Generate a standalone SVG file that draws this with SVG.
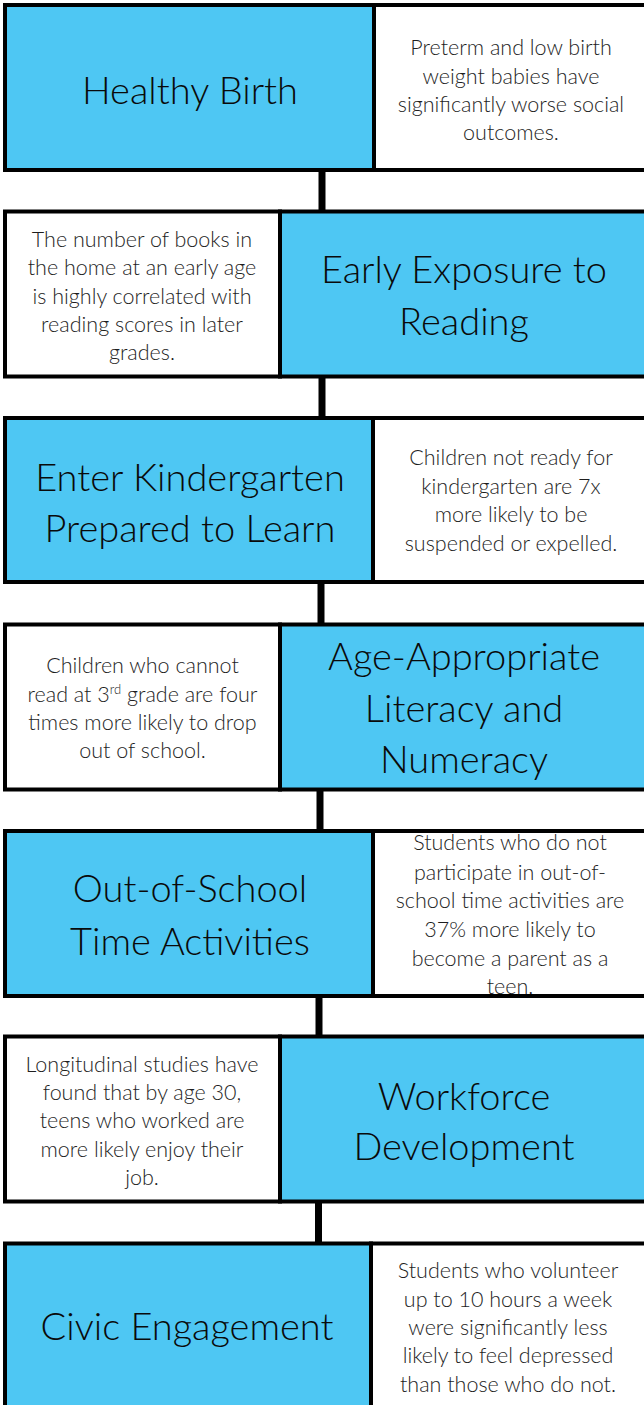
<svg xmlns="http://www.w3.org/2000/svg" width="644" height="1405" viewBox="0 0 644 1405">
<style>
.blue{fill:#4EC7F3;}
.white{fill:#FFFFFF;}
.frame{fill:none;stroke:#000;stroke-width:4;}
.title{font-family:Lato,"Open Sans","Liberation Sans",sans-serif;font-weight:300;font-size:38px;fill:#0a0a0a;text-anchor:middle;}
.body{font-family:Lato,"Open Sans","Liberation Sans",sans-serif;font-weight:300;font-size:21.5px;fill:#1e1e1e;text-anchor:middle;}
.conn{stroke:#000;stroke-width:7;}
</style>
<rect x="0" y="0" width="644" height="1405" fill="#fff"/>
<g id="connectors">
<line class="conn" x1="322" y1="168" x2="322" y2="213"/>
<line class="conn" x1="322" y1="375" x2="322" y2="420"/>
<line class="conn" x1="321" y1="580" x2="321" y2="626"/>
<line class="conn" x1="320" y1="788" x2="320" y2="833"/>
<line class="conn" x1="319" y1="994" x2="319" y2="1038"/>
<line class="conn" x1="318.5" y1="1200" x2="318.5" y2="1245"/>
</g>
<g id="healthy-birth">
<rect class="blue" x="5" y="5" width="369" height="165"/>
<text class="title" x="190" y="104">Healthy Birth</text>
<rect class="frame" x="5" y="5" width="369" height="165"/>
</g>
<g id="healthy-birth-fact">
<rect class="white" x="374" y="5" width="274" height="165"/>
<text class="body"><tspan x="511" y="55">Preterm and low birth</tspan><tspan x="511" y="83.5">weight babies have</tspan><tspan x="511" y="112">significantly worse social</tspan><tspan x="511" y="140">outcomes.</tspan></text>
<rect class="frame" x="374" y="5" width="274" height="165"/>
</g>
<g id="early-reading-fact">
<rect class="white" x="5" y="211.5" width="275" height="165"/>
<text class="body"><tspan x="142" y="247">The number of books in</tspan><tspan x="142" y="275">the home at an early age</tspan><tspan x="142" y="303.5">is highly correlated with</tspan><tspan x="142" y="332">reading scores in later</tspan><tspan x="142" y="360">grades.</tspan></text>
<rect class="frame" x="5" y="211.5" width="275" height="165"/>
</g>
<g id="early-reading">
<rect class="blue" x="280" y="211.5" width="368" height="165"/>
<text class="title"><tspan x="464" y="283">Early Exposure to</tspan><tspan x="464" y="335">Reading</tspan></text>
<rect class="frame" x="280" y="211.5" width="368" height="165"/>
</g>
<g id="kindergarten">
<rect class="blue" x="5" y="418" width="368" height="164"/>
<text class="title"><tspan x="190" y="491">Enter Kindergarten</tspan><tspan x="190" y="542">Prepared to Learn</tspan></text>
<rect class="frame" x="5" y="418" width="368" height="164"/>
</g>
<g id="kindergarten-fact">
<rect class="white" x="373" y="418" width="275" height="164"/>
<text class="body"><tspan x="511" y="465">Children not ready for</tspan><tspan x="511" y="494">kindergarten are 7x</tspan><tspan x="511" y="522">more likely to be</tspan><tspan x="511" y="551">suspended or expelled.</tspan></text>
<rect class="frame" x="373" y="418" width="275" height="164"/>
</g>
<g id="literacy-fact">
<rect class="white" x="5" y="624.5" width="275" height="165"/>
<text class="body"><tspan x="142.5" y="673">Children who cannot</tspan><tspan x="142.5" y="702">read at 3<tspan font-size="13" dy="-8">rd</tspan><tspan dy="8"> grade are four</tspan></tspan><tspan x="142.5" y="730">times more likely to drop</tspan><tspan x="142.5" y="758">out of school.</tspan></text>
<rect class="frame" x="5" y="624.5" width="275" height="165"/>
</g>
<g id="literacy">
<rect class="blue" x="280" y="624.5" width="368" height="165"/>
<text class="title"><tspan x="464" y="670">Age-Appropriate</tspan><tspan x="464" y="722">Literacy and</tspan><tspan x="464" y="773">Numeracy</tspan></text>
<rect class="frame" x="280" y="624.5" width="368" height="165"/>
</g>
<g id="out-of-school">
<rect class="blue" x="5" y="831" width="368" height="165"/>
<text class="title"><tspan x="190" y="902">Out-of-School</tspan><tspan x="190" y="955">Time Activities</tspan></text>
<rect class="frame" x="5" y="831" width="368" height="165"/>
</g>
<g id="out-of-school-fact">
<rect class="white" x="373" y="831" width="275" height="165"/>
<text class="body"><tspan x="510" y="850">Students who do not</tspan><tspan x="510" y="880">participate in out-of-</tspan><tspan x="510" y="908">school time activities are</tspan><tspan x="510" y="937">37% more likely to</tspan><tspan x="510" y="966">become a parent as a</tspan><tspan x="510" y="994">teen.</tspan></text>
<rect class="frame" x="373" y="831" width="275" height="165"/>
</g>
<g id="workforce-fact">
<rect class="white" x="5" y="1036.5" width="275" height="165"/>
<text class="body"><tspan x="142" y="1072">Longitudinal studies have</tspan><tspan x="142" y="1100">found that by age 30,</tspan><tspan x="142" y="1128">teens who worked are</tspan><tspan x="142" y="1157">more likely enjoy their</tspan><tspan x="142" y="1185">job.</tspan></text>
<rect class="frame" x="5" y="1036.5" width="275" height="165"/>
</g>
<g id="workforce">
<rect class="blue" x="280" y="1036.5" width="368" height="165"/>
<text class="title"><tspan x="464" y="1110">Workforce</tspan><tspan x="464" y="1160">Development</tspan></text>
<rect class="frame" x="280" y="1036.5" width="368" height="165"/>
</g>
<g id="civic">
<rect class="blue" x="5" y="1243.5" width="366" height="170"/>
<text class="title" x="187" y="1340">Civic Engagement</text>
<rect class="frame" x="5" y="1243.5" width="366" height="170"/>
</g>
<g id="civic-fact">
<rect class="white" x="371" y="1243.5" width="277" height="170"/>
<text class="body"><tspan x="508" y="1278">Students who volunteer</tspan><tspan x="508" y="1307">up to 10 hours a week</tspan><tspan x="508" y="1335">were significantly less</tspan><tspan x="508" y="1363">likely to feel depressed</tspan><tspan x="508" y="1392">than those who do not.</tspan></text>
<rect class="frame" x="371" y="1243.5" width="277" height="170"/>
</g>
</svg>
